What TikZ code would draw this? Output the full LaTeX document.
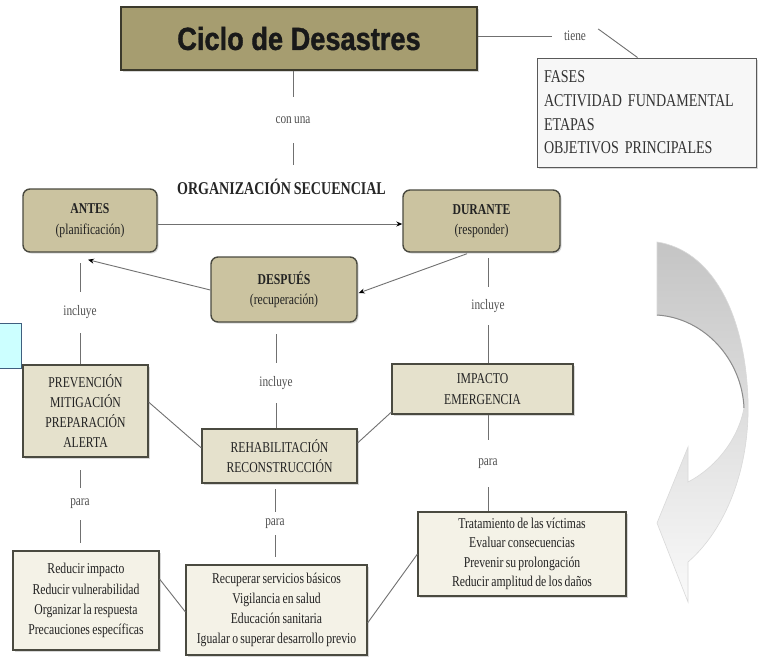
\documentclass[tikz,border=0pt]{standalone}
\usepackage{fontspec}
\setmainfont{Liberation Serif}[FakeStretch=0.78,WordSpace=0.8]
\newfontfamily\titlefont{Liberation Sans}[FakeStretch=0.85,FakeBold=1.2]
\usetikzlibrary{shadows,calc,arrows.meta}
\definecolor{titlefill}{HTML}{A69D70}
\definecolor{titledraw}{HTML}{3C3A2C}
\definecolor{tanA}{HTML}{CBC3A0}
\definecolor{tanB}{HTML}{E5E1CC}
\definecolor{tanC}{HTML}{F4F2E7}
\definecolor{boxdraw}{HTML}{4A4A40}
\definecolor{linec}{HTML}{707070}
\definecolor{txt}{HTML}{222222}
\definecolor{labc}{HTML}{505050}
\definecolor{cyanfill}{HTML}{CCFFFF}
\definecolor{cyandraw}{HTML}{3F5F7F}
\tikzset{
  shad/.style={drop shadow={shadow xshift=1.5pt,shadow yshift=-1.5pt,opacity=.3}},
  titlebox/.style={draw=titledraw,line width=1.3pt,fill=titlefill,inner sep=0pt,shad,
    font=\titlefont\bfseries\fontsize{32}{36}\selectfont,text=black!90},
  fbox/.style={draw=black!65,line width=1pt,fill=white!97!black,inner sep=0pt,shad,
    font=\fontsize{18}{23.7}\selectfont,text=black!80},
  rbox/.style={draw=boxdraw,line width=1.4pt,rounded corners=7pt,fill=tanA,align=center,
    inner sep=0pt,shad,font=\fontsize{15}{20.5}\selectfont,text=txt},
  mbox/.style={draw=boxdraw,line width=1.1pt,fill=tanB,align=center,inner sep=0pt,shad,
    font=\fontsize{15}{20.3}\selectfont,text=txt},
  lbox/.style={draw=boxdraw,line width=1.1pt,fill=tanC,align=center,inner sep=0pt,shad,
    font=\fontsize{15}{20.1}\selectfont,text=txt},
  lab/.style={inner sep=0pt,font=\fontsize{14.5}{17}\selectfont,text=labc},
  conn/.style={draw=linec,line width=0.9pt},
  arr/.style={conn,-{Stealth[length=6pt,width=5pt,black]}}
}
\begin{document}
\begin{tikzpicture}[x=1pt,y=-1pt]
\useasboundingbox (0,0) rectangle (759,657);
\fill[white] (0,0) rectangle (759,657);

% curved arrow at right
\shade[top color=black!23,middle color=black!17,bottom color=black!2,draw=black!15,line width=0.6pt]
  (657,242) .. controls (710,250) and (745,310) .. (748,400)
  .. controls (750,470) and (725,530) .. (688,562)
  -- (688,602) -- (657,523) -- (688,447) -- (688,482)
  .. controls (715,468) and (738,440) .. (744,408)
  .. controls (742,360) and (705,318) .. (657,315) -- cycle;
\draw[black!45,line width=1pt] (657,315) .. controls (705,318) and (742,360) .. (744,408);
\draw[white,line width=1.2pt] (657,318) .. controls (703,321) and (739,362) .. (741,408);

% title and right box
\node[titlebox,minimum width=356pt,minimum height=63pt] (title) at (299,38.5) {Ciclo de Desastres};
\node[fbox,minimum width=219pt,minimum height=109pt,text width=205pt,align=left] (fases) at (646.5,112.5)
  {FASES\\ACTIVIDAD FUNDAMENTAL\\ETAPAS\\OBJETIVOS PRINCIPALES};
\node[lab,inner xsep=12pt,inner ysep=2pt] (tiene) at (575,36) {tiene};
\coordinate (ft) at ($(fases.north west)+(101,0)$);
\draw[conn] (title.east |- tiene.west) -- (tiene.west);
\draw[conn] (tiene.north east) -- (ft);

\node[lab,minimum height=46pt] (conuna) at (293,120) {con una};
\node[inner sep=0pt,minimum height=44pt,font=\bfseries\fontsize{18}{20}\selectfont,text=black!85] (org) at (281.5,187) {ORGANIZACIÓN SECUENCIAL};
\draw[conn] (conuna |- title.south) -- (conuna.north);
\draw[conn] (conuna.south) -- (conuna.south |- org.north);

% phase boxes
\node[rbox,minimum width=134pt,minimum height=63pt] (antes) at (90,220.5) {\textbf{ANTES}\\(planificación)};
\node[rbox,minimum width=157pt,minimum height=62pt] (durante) at (481.5,221) {\textbf{DURANTE}\\(responder)};
\node[rbox,minimum width=146pt,minimum height=65pt] (despues) at (284,289.5) {\textbf{DESPUÉS}\\(recuperación)};

% second level
\node[mbox,minimum width=125pt,minimum height=92pt] (prev) at (85.5,411) {PREVENCIÓN\\MITIGACIÓN\\PREPARACIÓN\\ALERTA};
\node[mbox,minimum width=155pt,minimum height=54pt] (rehab) at (279.5,456) {REHABILITACIÓN\\RECONSTRUCCIÓN};
\node[mbox,minimum width=181pt,minimum height=50pt] (impacto) at (482.5,389) {IMPACTO\\EMERGENCIA};

% third level
\node[lbox,minimum width=146pt,minimum height=99pt] (reducir) at (86,600.5)
  {Reducir impacto\\Reducir vulnerabilidad\\Organizar la respuesta\\Precauciones específicas};
\node[lbox,minimum width=181pt,minimum height=90pt] (recup) at (276.5,610)
  {Recuperar servicios básicos\\Vigilancia en salud\\Educación sanitaria\\Igualar o superar desarrollo previo};
\node[lbox,minimum width=208pt,minimum height=84pt,font=\fontsize{15}{19.5}\selectfont] (trat) at (522,554)
  {Tratamiento de las víctimas\\Evaluar consecuencias\\Prevenir su prolongación\\Reducir amplitud de los daños};

% cyan box
\node[draw=cyandraw,fill=cyanfill,line width=0.8pt,minimum width=22pt,minimum height=45pt,inner sep=0pt] (cyanbox) at (10,345.5) {};

% labels
\node[lab,minimum height=41pt] (inc1) at (80,312.5) {incluye};
\node[lab,minimum height=40pt] (inc2) at (276,383) {incluye};
\node[lab,minimum height=38pt] (inc3) at (488,306) {incluye};
\node[lab,minimum height=32pt] (para1) at (80,504) {para};
\node[lab,minimum height=23pt] (para2) at (275,523.5) {para};
\node[lab,minimum height=47pt] (para3) at (488,463.5) {para};

% label connectors
\draw[conn,shorten >=10pt] (inc1.north) -- (inc1 |- antes.south);
\draw[conn] (inc1.south) -- (inc1 |- prev.north);
\draw[conn,shorten >=11pt] (inc2.north) -- (inc2 |- despues.south);
\draw[conn] (inc2.south) -- (inc2 |- rehab.north);
\draw[conn,shorten >=5pt] (inc3.north) -- (inc3 |- durante.south);
\draw[conn] (inc3.south) -- (inc3 |- impacto.north);
\draw[conn,shorten >=12pt] (para1.north) -- (para1 |- prev.south);
\draw[conn,shorten >=7pt] (para1.south) -- (para1 |- reducir.north);
\draw[conn,shorten >=5pt] (para2.north) -- (para2 |- rehab.south);
\draw[conn,shorten >=7pt] (para2.south) -- (para2 |- recup.north);
\draw[conn] (para3.north) -- (para3 |- impacto.south);
\draw[conn] (para3.south) -- (para3 |- trat.north);

% box to box lines
\draw[conn] ($(prev.east)+(0,-9)$) -- ($(rehab.west)+(0,-8)$);
\draw[conn] ($(rehab.east)+(0,-13)$) -- ($(impacto.west)+(0,23)$);
\draw[conn] ($(reducir.east)+(0,-21.5)$) -- ($(recup.west)+(0,2)$);
\draw[conn] ($(recup.east)+(0,13)$) -- (trat.west);

% arrows of the cycle
\draw[arr] ($(antes.east)+(0,3.5)$) -- ($(durante.west)+(0,3)$);
\draw[arr] ($(durante.south)+(-14.5,1)$) -- ($(despues.east)+(1,3.5)$);
\draw[arr] ($(despues.west)+(0,0.5)$) -- ($(antes.south)+(-2,7)$);
\end{tikzpicture}
\end{document}
